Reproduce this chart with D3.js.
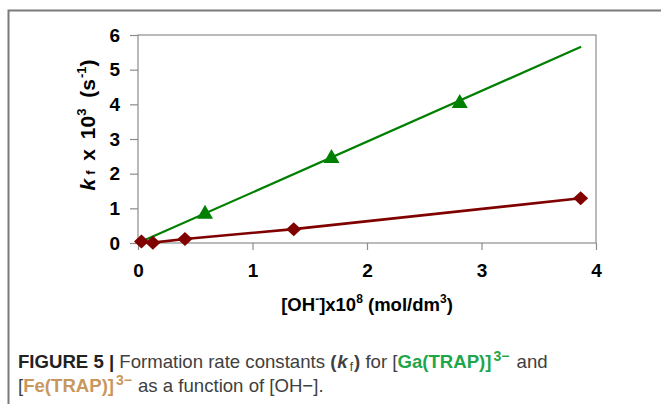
<!DOCTYPE html>
<html>
<head>
<meta charset="utf-8">
<script src="https://cdn.jsdelivr.net/npm/d3@7"></script>
<style>
  html, body { margin: 0; padding: 0; background: #fff; }
  svg { display: block; }
</style>
</head>
<body>
<svg id="chart" width="661" height="404"></svg>
<script>
// ---- data ----
const xTicks = [0, 1, 2, 3, 4];
const yTicks = [0, 1, 2, 3, 4, 5, 6];
// Ga(TRAP) measured points (triangles)
const gaOH = [0.585, 1.69, 2.81];
const gaK  = [0.87, 2.48, 4.07];
// Ga(TRAP) linear fit line end points
const gaFitOH = [0.03, 3.87];
const gaFitK  = [0.04, 5.66];
// Fe(TRAP) points (diamonds)
const feOH = [0.03, 0.13, 0.41, 1.36, 3.866];
const feK  = [0.04, 0.01, 0.115, 0.40, 1.29];

const svg = d3.select("#chart");

// outer frame (left + top)
svg.append("path")
  .attr("d", "M8.5,404 L8.5,10.5 L661,10.5")
  .attr("fill", "none").attr("stroke", "#7a7a7a").attr("stroke-width", 2);

const x = d3.scaleLinear().domain([0, 4]).range([138, 596]);
const y = d3.scaleLinear().domain([0, 6]).range([243, 35]);

// plot box
svg.append("rect")
  .attr("x", x(0)).attr("y", y(6))
  .attr("width", x(4) - x(0)).attr("height", y(0) - y(6))
  .attr("fill", "none").attr("stroke", "#8c8c8c").attr("stroke-width", 1.2);

const fontMain = "'Liberation Sans', Arial, sans-serif";

// y axis
const yAxis = d3.axisLeft(y).tickValues(yTicks).tickSize(8).tickPadding(10).tickFormat(d3.format("d"));
const gy = svg.append("g").attr("transform", `translate(${x(0)},0)`).call(yAxis);
gy.select(".domain").remove();
gy.selectAll(".tick line").attr("stroke", "#8c8c8c").attr("stroke-width", 1.2);
gy.selectAll(".tick text")
  .attr("font-family", fontMain).attr("font-size", 19).attr("font-weight", "bold").attr("fill", "#000");

// x axis
const xAxis = d3.axisBottom(x).tickValues(xTicks).tickSize(7).tickPadding(14).tickFormat(d3.format("d"));
const gx = svg.append("g").attr("transform", `translate(0,${y(0)})`).call(xAxis);
gx.select(".domain").remove();
gx.selectAll(".tick line").attr("stroke", "#8c8c8c").attr("stroke-width", 1.2);
gx.selectAll(".tick text")
  .attr("font-family", fontMain).attr("font-size", 19).attr("font-weight", "bold").attr("fill", "#000");

// Ga fit line
const line = d3.line().x(d => x(d[0])).y(d => y(d[1]));
svg.append("path")
  .datum(d3.zip(gaFitOH, gaFitK))
  .attr("d", line)
  .attr("fill", "none").attr("stroke", "#008000").attr("stroke-width", 2.2);

// Fe line
svg.append("path")
  .datum(d3.zip(feOH, feK))
  .attr("d", line)
  .attr("fill", "none").attr("stroke", "#800000").attr("stroke-width", 2.6);

// Ga triangles
svg.selectAll(".tri").data(d3.zip(gaOH, gaK)).enter().append("path")
  .attr("class", "tri")
  .attr("d", "M0,-8 L8,6 L-8,6 Z")
  .attr("transform", d => `translate(${x(d[0])},${y(d[1])})`)
  .attr("fill", "#008000");

// Fe diamonds
svg.selectAll(".dia").data(d3.zip(feOH, feK)).enter().append("path")
  .attr("class", "dia")
  .attr("d", "M0,-7 L7.5,0 L0,7 L-7.5,0 Z")
  .attr("transform", d => `translate(${x(d[0])},${y(d[1])})`)
  .attr("fill", "#800000");

// x axis title
const xt = svg.append("text")
  .attr("x", 367).attr("y", 311)
  .attr("text-anchor", "middle")
  .attr("font-family", fontMain).attr("font-size", 18.5).attr("font-weight", "bold").attr("fill", "#000");
xt.append("tspan").text("[OH");
xt.append("tspan").attr("font-size", 12).attr("dy", -8).text("-");
xt.append("tspan").attr("dy", 8).text("]x10");
xt.append("tspan").attr("font-size", 12).attr("dy", -8).text("8");
xt.append("tspan").attr("dy", 8).text(" (mol/dm");
xt.append("tspan").attr("font-size", 12).attr("dy", -8).text("3");
xt.append("tspan").attr("dy", 8).text(")");

// y axis title
const yt = svg.append("text")
  .attr("transform", "translate(95,125) rotate(-90)")
  .attr("text-anchor", "middle")
  .attr("font-family", fontMain).attr("font-size", 21).attr("font-weight", "bold").attr("fill", "#000");
yt.append("tspan").attr("font-style", "italic").text("k");
yt.append("tspan").attr("font-size", 13).attr("dx", 4).text("f");
yt.append("tspan").attr("dx", 4).text(" x");
yt.append("tspan").attr("dx", 4).text(" 10");
yt.append("tspan").attr("font-size", 13).attr("dy", -9).text("3");
yt.append("tspan").attr("dx", 5).attr("dy", 9).text(" (s");
yt.append("tspan").attr("font-size", 13).attr("dx", 1).attr("dy", -9).text("-1");
yt.append("tspan").attr("dy", 9).text(")");

// caption
const capFont = "'Liberation Sans Narrow', 'Liberation Sans', Arial, sans-serif";
const gray = "#404040", green = "#1ea64b", tan = "#c8975e";
const c1 = svg.append("text").attr("x", 18).attr("y", 368)
  .attr("font-family", capFont).attr("font-size", 18.6).attr("fill", gray);
c1.append("tspan").attr("font-weight", "bold").attr("fill", "#222").text("FIGURE 5 | ");
c1.append("tspan").text("Formation rate constants ");
c1.append("tspan").attr("font-weight", "bold").text("(");
c1.append("tspan").attr("font-weight", "bold").attr("font-style", "italic").attr("dx", 1).text("k");
c1.append("tspan").attr("font-size", 12).attr("dx", 2).attr("dy", 3).text("f");
c1.append("tspan").attr("font-weight", "bold").attr("dx", 1).attr("dy", -3).text(")");
c1.append("tspan").text(" for [");
c1.append("tspan").attr("font-weight", "bold").attr("fill", green).text("Ga(TRAP)]");
c1.append("tspan").attr("font-weight", "bold").attr("fill", green).attr("font-size", 14).attr("dx", 2).attr("dy", -7).text("3−");
c1.append("tspan").attr("dx", 2).attr("dy", 7).text("  and");

const c2 = svg.append("text").attr("x", 18).attr("y", 392)
  .attr("font-family", capFont).attr("font-size", 18.6).attr("fill", gray);
c2.append("tspan").text("[");
c2.append("tspan").attr("font-weight", "bold").attr("fill", tan).text("Fe(TRAP)]");
c2.append("tspan").attr("font-weight", "bold").attr("fill", tan).attr("font-size", 14).attr("dx", 2).attr("dy", -7).text("3−");
c2.append("tspan").attr("dx", 6).attr("dy", 7).text("as a function of [OH−].");
</script>
</body>
</html>
